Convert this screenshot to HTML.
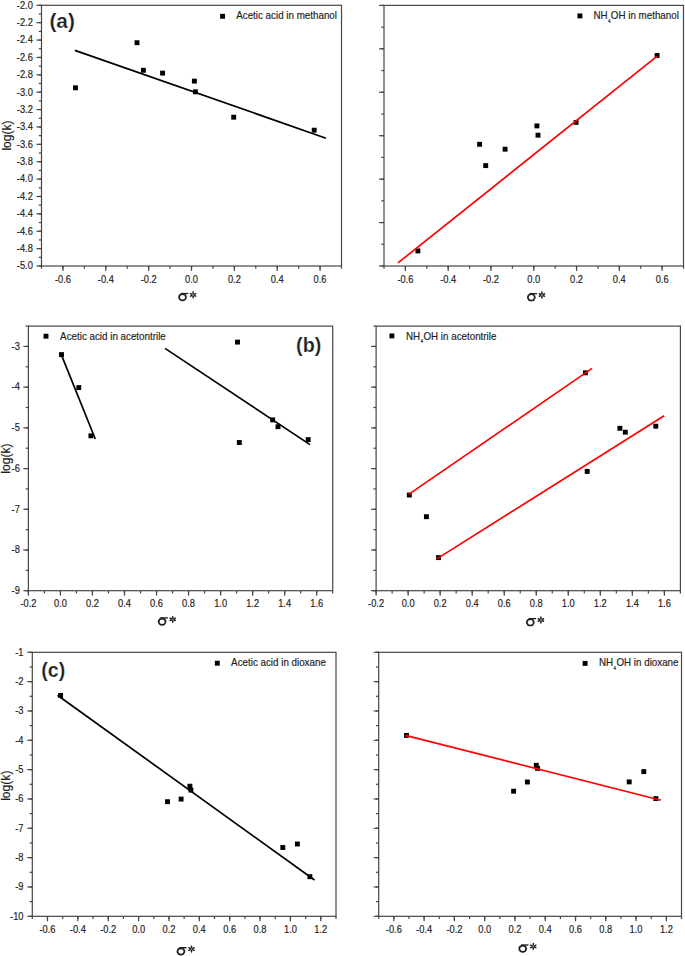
<!DOCTYPE html>
<html><head><meta charset="utf-8"><style>
html,body{margin:0;padding:0;background:#fff;}
body{width:685px;height:956px;overflow:hidden;font-family:"Liberation Sans",sans-serif;}
svg{display:block;}
</style></head><body>
<svg width="685" height="956" viewBox="0 0 685 956">
<rect x="41.50" y="5.30" width="300.00" height="260.70" fill="none" stroke="#454545" stroke-width="1.2"/>
<line x1="41.50" y1="266.00" x2="41.50" y2="268.70" stroke="#454545" stroke-width="1.2"/>
<line x1="62.93" y1="266.00" x2="62.93" y2="268.70" stroke="#454545" stroke-width="1.2"/>
<line x1="84.36" y1="266.00" x2="84.36" y2="268.70" stroke="#454545" stroke-width="1.2"/>
<line x1="105.79" y1="266.00" x2="105.79" y2="268.70" stroke="#454545" stroke-width="1.2"/>
<line x1="127.21" y1="266.00" x2="127.21" y2="268.70" stroke="#454545" stroke-width="1.2"/>
<line x1="148.64" y1="266.00" x2="148.64" y2="268.70" stroke="#454545" stroke-width="1.2"/>
<line x1="170.07" y1="266.00" x2="170.07" y2="268.70" stroke="#454545" stroke-width="1.2"/>
<line x1="191.50" y1="266.00" x2="191.50" y2="268.70" stroke="#454545" stroke-width="1.2"/>
<line x1="212.93" y1="266.00" x2="212.93" y2="268.70" stroke="#454545" stroke-width="1.2"/>
<line x1="234.36" y1="266.00" x2="234.36" y2="268.70" stroke="#454545" stroke-width="1.2"/>
<line x1="255.79" y1="266.00" x2="255.79" y2="268.70" stroke="#454545" stroke-width="1.2"/>
<line x1="277.21" y1="266.00" x2="277.21" y2="268.70" stroke="#454545" stroke-width="1.2"/>
<line x1="298.64" y1="266.00" x2="298.64" y2="268.70" stroke="#454545" stroke-width="1.2"/>
<line x1="320.07" y1="266.00" x2="320.07" y2="268.70" stroke="#454545" stroke-width="1.2"/>
<line x1="341.50" y1="266.00" x2="341.50" y2="268.70" stroke="#454545" stroke-width="1.2"/>
<line x1="62.93" y1="266.00" x2="62.93" y2="271.00" stroke="#454545" stroke-width="1.2"/>
<line x1="105.79" y1="266.00" x2="105.79" y2="271.00" stroke="#454545" stroke-width="1.2"/>
<line x1="148.64" y1="266.00" x2="148.64" y2="271.00" stroke="#454545" stroke-width="1.2"/>
<line x1="191.50" y1="266.00" x2="191.50" y2="271.00" stroke="#454545" stroke-width="1.2"/>
<line x1="234.36" y1="266.00" x2="234.36" y2="271.00" stroke="#454545" stroke-width="1.2"/>
<line x1="277.21" y1="266.00" x2="277.21" y2="271.00" stroke="#454545" stroke-width="1.2"/>
<line x1="320.07" y1="266.00" x2="320.07" y2="271.00" stroke="#454545" stroke-width="1.2"/>
<text transform="translate(62.93,282.50) scale(0.903,1)" font-size="10.3" text-anchor="middle" font-weight="normal" font-family="Liberation Sans" fill="#1e1e1e" stroke="#1e1e1e" stroke-width="0.18">-0.6</text>
<text transform="translate(105.79,282.50) scale(0.903,1)" font-size="10.3" text-anchor="middle" font-weight="normal" font-family="Liberation Sans" fill="#1e1e1e" stroke="#1e1e1e" stroke-width="0.18">-0.4</text>
<text transform="translate(148.64,282.50) scale(0.903,1)" font-size="10.3" text-anchor="middle" font-weight="normal" font-family="Liberation Sans" fill="#1e1e1e" stroke="#1e1e1e" stroke-width="0.18">-0.2</text>
<text transform="translate(191.50,282.50) scale(0.903,1)" font-size="10.3" text-anchor="middle" font-weight="normal" font-family="Liberation Sans" fill="#1e1e1e" stroke="#1e1e1e" stroke-width="0.18">0.0</text>
<text transform="translate(234.36,282.50) scale(0.903,1)" font-size="10.3" text-anchor="middle" font-weight="normal" font-family="Liberation Sans" fill="#1e1e1e" stroke="#1e1e1e" stroke-width="0.18">0.2</text>
<text transform="translate(277.21,282.50) scale(0.903,1)" font-size="10.3" text-anchor="middle" font-weight="normal" font-family="Liberation Sans" fill="#1e1e1e" stroke="#1e1e1e" stroke-width="0.18">0.4</text>
<text transform="translate(320.07,282.50) scale(0.903,1)" font-size="10.3" text-anchor="middle" font-weight="normal" font-family="Liberation Sans" fill="#1e1e1e" stroke="#1e1e1e" stroke-width="0.18">0.6</text>
<line x1="38.80" y1="5.30" x2="41.50" y2="5.30" stroke="#454545" stroke-width="1.2"/>
<line x1="38.80" y1="13.99" x2="41.50" y2="13.99" stroke="#454545" stroke-width="1.2"/>
<line x1="38.80" y1="22.68" x2="41.50" y2="22.68" stroke="#454545" stroke-width="1.2"/>
<line x1="38.80" y1="31.37" x2="41.50" y2="31.37" stroke="#454545" stroke-width="1.2"/>
<line x1="38.80" y1="40.06" x2="41.50" y2="40.06" stroke="#454545" stroke-width="1.2"/>
<line x1="38.80" y1="48.75" x2="41.50" y2="48.75" stroke="#454545" stroke-width="1.2"/>
<line x1="38.80" y1="57.44" x2="41.50" y2="57.44" stroke="#454545" stroke-width="1.2"/>
<line x1="38.80" y1="66.13" x2="41.50" y2="66.13" stroke="#454545" stroke-width="1.2"/>
<line x1="38.80" y1="74.82" x2="41.50" y2="74.82" stroke="#454545" stroke-width="1.2"/>
<line x1="38.80" y1="83.51" x2="41.50" y2="83.51" stroke="#454545" stroke-width="1.2"/>
<line x1="38.80" y1="92.20" x2="41.50" y2="92.20" stroke="#454545" stroke-width="1.2"/>
<line x1="38.80" y1="100.89" x2="41.50" y2="100.89" stroke="#454545" stroke-width="1.2"/>
<line x1="38.80" y1="109.58" x2="41.50" y2="109.58" stroke="#454545" stroke-width="1.2"/>
<line x1="38.80" y1="118.27" x2="41.50" y2="118.27" stroke="#454545" stroke-width="1.2"/>
<line x1="38.80" y1="126.96" x2="41.50" y2="126.96" stroke="#454545" stroke-width="1.2"/>
<line x1="38.80" y1="135.65" x2="41.50" y2="135.65" stroke="#454545" stroke-width="1.2"/>
<line x1="38.80" y1="144.34" x2="41.50" y2="144.34" stroke="#454545" stroke-width="1.2"/>
<line x1="38.80" y1="153.03" x2="41.50" y2="153.03" stroke="#454545" stroke-width="1.2"/>
<line x1="38.80" y1="161.72" x2="41.50" y2="161.72" stroke="#454545" stroke-width="1.2"/>
<line x1="38.80" y1="170.41" x2="41.50" y2="170.41" stroke="#454545" stroke-width="1.2"/>
<line x1="38.80" y1="179.10" x2="41.50" y2="179.10" stroke="#454545" stroke-width="1.2"/>
<line x1="38.80" y1="187.79" x2="41.50" y2="187.79" stroke="#454545" stroke-width="1.2"/>
<line x1="38.80" y1="196.48" x2="41.50" y2="196.48" stroke="#454545" stroke-width="1.2"/>
<line x1="38.80" y1="205.17" x2="41.50" y2="205.17" stroke="#454545" stroke-width="1.2"/>
<line x1="38.80" y1="213.86" x2="41.50" y2="213.86" stroke="#454545" stroke-width="1.2"/>
<line x1="38.80" y1="222.55" x2="41.50" y2="222.55" stroke="#454545" stroke-width="1.2"/>
<line x1="38.80" y1="231.24" x2="41.50" y2="231.24" stroke="#454545" stroke-width="1.2"/>
<line x1="38.80" y1="239.93" x2="41.50" y2="239.93" stroke="#454545" stroke-width="1.2"/>
<line x1="38.80" y1="248.62" x2="41.50" y2="248.62" stroke="#454545" stroke-width="1.2"/>
<line x1="38.80" y1="257.31" x2="41.50" y2="257.31" stroke="#454545" stroke-width="1.2"/>
<line x1="38.80" y1="266.00" x2="41.50" y2="266.00" stroke="#454545" stroke-width="1.2"/>
<line x1="36.50" y1="5.30" x2="41.50" y2="5.30" stroke="#454545" stroke-width="1.2"/>
<line x1="36.50" y1="22.68" x2="41.50" y2="22.68" stroke="#454545" stroke-width="1.2"/>
<line x1="36.50" y1="40.06" x2="41.50" y2="40.06" stroke="#454545" stroke-width="1.2"/>
<line x1="36.50" y1="57.44" x2="41.50" y2="57.44" stroke="#454545" stroke-width="1.2"/>
<line x1="36.50" y1="74.82" x2="41.50" y2="74.82" stroke="#454545" stroke-width="1.2"/>
<line x1="36.50" y1="92.20" x2="41.50" y2="92.20" stroke="#454545" stroke-width="1.2"/>
<line x1="36.50" y1="109.58" x2="41.50" y2="109.58" stroke="#454545" stroke-width="1.2"/>
<line x1="36.50" y1="126.96" x2="41.50" y2="126.96" stroke="#454545" stroke-width="1.2"/>
<line x1="36.50" y1="144.34" x2="41.50" y2="144.34" stroke="#454545" stroke-width="1.2"/>
<line x1="36.50" y1="161.72" x2="41.50" y2="161.72" stroke="#454545" stroke-width="1.2"/>
<line x1="36.50" y1="179.10" x2="41.50" y2="179.10" stroke="#454545" stroke-width="1.2"/>
<line x1="36.50" y1="196.48" x2="41.50" y2="196.48" stroke="#454545" stroke-width="1.2"/>
<line x1="36.50" y1="213.86" x2="41.50" y2="213.86" stroke="#454545" stroke-width="1.2"/>
<line x1="36.50" y1="231.24" x2="41.50" y2="231.24" stroke="#454545" stroke-width="1.2"/>
<line x1="36.50" y1="248.62" x2="41.50" y2="248.62" stroke="#454545" stroke-width="1.2"/>
<line x1="36.50" y1="266.00" x2="41.50" y2="266.00" stroke="#454545" stroke-width="1.2"/>
<text transform="translate(32.80,8.60) scale(0.903,1)" font-size="10.3" text-anchor="end" font-weight="normal" font-family="Liberation Sans" fill="#1e1e1e" stroke="#1e1e1e" stroke-width="0.18">-2.0</text>
<text transform="translate(32.80,25.98) scale(0.903,1)" font-size="10.3" text-anchor="end" font-weight="normal" font-family="Liberation Sans" fill="#1e1e1e" stroke="#1e1e1e" stroke-width="0.18">-2.2</text>
<text transform="translate(32.80,43.36) scale(0.903,1)" font-size="10.3" text-anchor="end" font-weight="normal" font-family="Liberation Sans" fill="#1e1e1e" stroke="#1e1e1e" stroke-width="0.18">-2.4</text>
<text transform="translate(32.80,60.74) scale(0.903,1)" font-size="10.3" text-anchor="end" font-weight="normal" font-family="Liberation Sans" fill="#1e1e1e" stroke="#1e1e1e" stroke-width="0.18">-2.6</text>
<text transform="translate(32.80,78.12) scale(0.903,1)" font-size="10.3" text-anchor="end" font-weight="normal" font-family="Liberation Sans" fill="#1e1e1e" stroke="#1e1e1e" stroke-width="0.18">-2.8</text>
<text transform="translate(32.80,95.50) scale(0.903,1)" font-size="10.3" text-anchor="end" font-weight="normal" font-family="Liberation Sans" fill="#1e1e1e" stroke="#1e1e1e" stroke-width="0.18">-3.0</text>
<text transform="translate(32.80,112.88) scale(0.903,1)" font-size="10.3" text-anchor="end" font-weight="normal" font-family="Liberation Sans" fill="#1e1e1e" stroke="#1e1e1e" stroke-width="0.18">-3.2</text>
<text transform="translate(32.80,130.26) scale(0.903,1)" font-size="10.3" text-anchor="end" font-weight="normal" font-family="Liberation Sans" fill="#1e1e1e" stroke="#1e1e1e" stroke-width="0.18">-3.4</text>
<text transform="translate(32.80,147.64) scale(0.903,1)" font-size="10.3" text-anchor="end" font-weight="normal" font-family="Liberation Sans" fill="#1e1e1e" stroke="#1e1e1e" stroke-width="0.18">-3.6</text>
<text transform="translate(32.80,165.02) scale(0.903,1)" font-size="10.3" text-anchor="end" font-weight="normal" font-family="Liberation Sans" fill="#1e1e1e" stroke="#1e1e1e" stroke-width="0.18">-3.8</text>
<text transform="translate(32.80,182.40) scale(0.903,1)" font-size="10.3" text-anchor="end" font-weight="normal" font-family="Liberation Sans" fill="#1e1e1e" stroke="#1e1e1e" stroke-width="0.18">-4.0</text>
<text transform="translate(32.80,199.78) scale(0.903,1)" font-size="10.3" text-anchor="end" font-weight="normal" font-family="Liberation Sans" fill="#1e1e1e" stroke="#1e1e1e" stroke-width="0.18">-4.2</text>
<text transform="translate(32.80,217.16) scale(0.903,1)" font-size="10.3" text-anchor="end" font-weight="normal" font-family="Liberation Sans" fill="#1e1e1e" stroke="#1e1e1e" stroke-width="0.18">-4.4</text>
<text transform="translate(32.80,234.54) scale(0.903,1)" font-size="10.3" text-anchor="end" font-weight="normal" font-family="Liberation Sans" fill="#1e1e1e" stroke="#1e1e1e" stroke-width="0.18">-4.6</text>
<text transform="translate(32.80,251.92) scale(0.903,1)" font-size="10.3" text-anchor="end" font-weight="normal" font-family="Liberation Sans" fill="#1e1e1e" stroke="#1e1e1e" stroke-width="0.18">-4.8</text>
<text transform="translate(32.80,269.30) scale(0.903,1)" font-size="10.3" text-anchor="end" font-weight="normal" font-family="Liberation Sans" fill="#1e1e1e" stroke="#1e1e1e" stroke-width="0.18">-5.0</text>
<rect x="384.00" y="5.40" width="299.50" height="260.60" fill="none" stroke="#454545" stroke-width="1.2"/>
<line x1="384.00" y1="266.00" x2="384.00" y2="268.70" stroke="#454545" stroke-width="1.2"/>
<line x1="405.39" y1="266.00" x2="405.39" y2="268.70" stroke="#454545" stroke-width="1.2"/>
<line x1="426.79" y1="266.00" x2="426.79" y2="268.70" stroke="#454545" stroke-width="1.2"/>
<line x1="448.18" y1="266.00" x2="448.18" y2="268.70" stroke="#454545" stroke-width="1.2"/>
<line x1="469.57" y1="266.00" x2="469.57" y2="268.70" stroke="#454545" stroke-width="1.2"/>
<line x1="490.96" y1="266.00" x2="490.96" y2="268.70" stroke="#454545" stroke-width="1.2"/>
<line x1="512.36" y1="266.00" x2="512.36" y2="268.70" stroke="#454545" stroke-width="1.2"/>
<line x1="533.75" y1="266.00" x2="533.75" y2="268.70" stroke="#454545" stroke-width="1.2"/>
<line x1="555.14" y1="266.00" x2="555.14" y2="268.70" stroke="#454545" stroke-width="1.2"/>
<line x1="576.54" y1="266.00" x2="576.54" y2="268.70" stroke="#454545" stroke-width="1.2"/>
<line x1="597.93" y1="266.00" x2="597.93" y2="268.70" stroke="#454545" stroke-width="1.2"/>
<line x1="619.32" y1="266.00" x2="619.32" y2="268.70" stroke="#454545" stroke-width="1.2"/>
<line x1="640.71" y1="266.00" x2="640.71" y2="268.70" stroke="#454545" stroke-width="1.2"/>
<line x1="662.11" y1="266.00" x2="662.11" y2="268.70" stroke="#454545" stroke-width="1.2"/>
<line x1="683.50" y1="266.00" x2="683.50" y2="268.70" stroke="#454545" stroke-width="1.2"/>
<line x1="405.39" y1="266.00" x2="405.39" y2="271.00" stroke="#454545" stroke-width="1.2"/>
<line x1="448.18" y1="266.00" x2="448.18" y2="271.00" stroke="#454545" stroke-width="1.2"/>
<line x1="490.96" y1="266.00" x2="490.96" y2="271.00" stroke="#454545" stroke-width="1.2"/>
<line x1="533.75" y1="266.00" x2="533.75" y2="271.00" stroke="#454545" stroke-width="1.2"/>
<line x1="576.54" y1="266.00" x2="576.54" y2="271.00" stroke="#454545" stroke-width="1.2"/>
<line x1="619.32" y1="266.00" x2="619.32" y2="271.00" stroke="#454545" stroke-width="1.2"/>
<line x1="662.11" y1="266.00" x2="662.11" y2="271.00" stroke="#454545" stroke-width="1.2"/>
<text transform="translate(405.39,282.50) scale(0.903,1)" font-size="10.3" text-anchor="middle" font-weight="normal" font-family="Liberation Sans" fill="#1e1e1e" stroke="#1e1e1e" stroke-width="0.18">-0.6</text>
<text transform="translate(448.18,282.50) scale(0.903,1)" font-size="10.3" text-anchor="middle" font-weight="normal" font-family="Liberation Sans" fill="#1e1e1e" stroke="#1e1e1e" stroke-width="0.18">-0.4</text>
<text transform="translate(490.96,282.50) scale(0.903,1)" font-size="10.3" text-anchor="middle" font-weight="normal" font-family="Liberation Sans" fill="#1e1e1e" stroke="#1e1e1e" stroke-width="0.18">-0.2</text>
<text transform="translate(533.75,282.50) scale(0.903,1)" font-size="10.3" text-anchor="middle" font-weight="normal" font-family="Liberation Sans" fill="#1e1e1e" stroke="#1e1e1e" stroke-width="0.18">0.0</text>
<text transform="translate(576.54,282.50) scale(0.903,1)" font-size="10.3" text-anchor="middle" font-weight="normal" font-family="Liberation Sans" fill="#1e1e1e" stroke="#1e1e1e" stroke-width="0.18">0.2</text>
<text transform="translate(619.32,282.50) scale(0.903,1)" font-size="10.3" text-anchor="middle" font-weight="normal" font-family="Liberation Sans" fill="#1e1e1e" stroke="#1e1e1e" stroke-width="0.18">0.4</text>
<text transform="translate(662.11,282.50) scale(0.903,1)" font-size="10.3" text-anchor="middle" font-weight="normal" font-family="Liberation Sans" fill="#1e1e1e" stroke="#1e1e1e" stroke-width="0.18">0.6</text>
<line x1="381.30" y1="5.40" x2="384.00" y2="5.40" stroke="#454545" stroke-width="1.2"/>
<line x1="381.30" y1="27.12" x2="384.00" y2="27.12" stroke="#454545" stroke-width="1.2"/>
<line x1="381.30" y1="48.83" x2="384.00" y2="48.83" stroke="#454545" stroke-width="1.2"/>
<line x1="381.30" y1="70.55" x2="384.00" y2="70.55" stroke="#454545" stroke-width="1.2"/>
<line x1="381.30" y1="92.27" x2="384.00" y2="92.27" stroke="#454545" stroke-width="1.2"/>
<line x1="381.30" y1="113.98" x2="384.00" y2="113.98" stroke="#454545" stroke-width="1.2"/>
<line x1="381.30" y1="135.70" x2="384.00" y2="135.70" stroke="#454545" stroke-width="1.2"/>
<line x1="381.30" y1="157.42" x2="384.00" y2="157.42" stroke="#454545" stroke-width="1.2"/>
<line x1="381.30" y1="179.13" x2="384.00" y2="179.13" stroke="#454545" stroke-width="1.2"/>
<line x1="381.30" y1="200.85" x2="384.00" y2="200.85" stroke="#454545" stroke-width="1.2"/>
<line x1="381.30" y1="222.57" x2="384.00" y2="222.57" stroke="#454545" stroke-width="1.2"/>
<line x1="381.30" y1="244.28" x2="384.00" y2="244.28" stroke="#454545" stroke-width="1.2"/>
<line x1="381.30" y1="266.00" x2="384.00" y2="266.00" stroke="#454545" stroke-width="1.2"/>
<line x1="379.00" y1="5.40" x2="384.00" y2="5.40" stroke="#454545" stroke-width="1.2"/>
<line x1="379.00" y1="48.83" x2="384.00" y2="48.83" stroke="#454545" stroke-width="1.2"/>
<line x1="379.00" y1="92.27" x2="384.00" y2="92.27" stroke="#454545" stroke-width="1.2"/>
<line x1="379.00" y1="135.70" x2="384.00" y2="135.70" stroke="#454545" stroke-width="1.2"/>
<line x1="379.00" y1="179.13" x2="384.00" y2="179.13" stroke="#454545" stroke-width="1.2"/>
<line x1="379.00" y1="222.57" x2="384.00" y2="222.57" stroke="#454545" stroke-width="1.2"/>
<line x1="379.00" y1="266.00" x2="384.00" y2="266.00" stroke="#454545" stroke-width="1.2"/>
<rect x="28.40" y="326.10" width="304.30" height="264.60" fill="none" stroke="#454545" stroke-width="1.2"/>
<line x1="28.40" y1="590.70" x2="28.40" y2="593.40" stroke="#454545" stroke-width="1.2"/>
<line x1="44.42" y1="590.70" x2="44.42" y2="593.40" stroke="#454545" stroke-width="1.2"/>
<line x1="60.43" y1="590.70" x2="60.43" y2="593.40" stroke="#454545" stroke-width="1.2"/>
<line x1="76.45" y1="590.70" x2="76.45" y2="593.40" stroke="#454545" stroke-width="1.2"/>
<line x1="92.46" y1="590.70" x2="92.46" y2="593.40" stroke="#454545" stroke-width="1.2"/>
<line x1="108.48" y1="590.70" x2="108.48" y2="593.40" stroke="#454545" stroke-width="1.2"/>
<line x1="124.49" y1="590.70" x2="124.49" y2="593.40" stroke="#454545" stroke-width="1.2"/>
<line x1="140.51" y1="590.70" x2="140.51" y2="593.40" stroke="#454545" stroke-width="1.2"/>
<line x1="156.53" y1="590.70" x2="156.53" y2="593.40" stroke="#454545" stroke-width="1.2"/>
<line x1="172.54" y1="590.70" x2="172.54" y2="593.40" stroke="#454545" stroke-width="1.2"/>
<line x1="188.56" y1="590.70" x2="188.56" y2="593.40" stroke="#454545" stroke-width="1.2"/>
<line x1="204.57" y1="590.70" x2="204.57" y2="593.40" stroke="#454545" stroke-width="1.2"/>
<line x1="220.59" y1="590.70" x2="220.59" y2="593.40" stroke="#454545" stroke-width="1.2"/>
<line x1="236.61" y1="590.70" x2="236.61" y2="593.40" stroke="#454545" stroke-width="1.2"/>
<line x1="252.62" y1="590.70" x2="252.62" y2="593.40" stroke="#454545" stroke-width="1.2"/>
<line x1="268.64" y1="590.70" x2="268.64" y2="593.40" stroke="#454545" stroke-width="1.2"/>
<line x1="284.65" y1="590.70" x2="284.65" y2="593.40" stroke="#454545" stroke-width="1.2"/>
<line x1="300.67" y1="590.70" x2="300.67" y2="593.40" stroke="#454545" stroke-width="1.2"/>
<line x1="316.68" y1="590.70" x2="316.68" y2="593.40" stroke="#454545" stroke-width="1.2"/>
<line x1="332.70" y1="590.70" x2="332.70" y2="593.40" stroke="#454545" stroke-width="1.2"/>
<line x1="28.40" y1="590.70" x2="28.40" y2="595.70" stroke="#454545" stroke-width="1.2"/>
<line x1="60.43" y1="590.70" x2="60.43" y2="595.70" stroke="#454545" stroke-width="1.2"/>
<line x1="92.46" y1="590.70" x2="92.46" y2="595.70" stroke="#454545" stroke-width="1.2"/>
<line x1="124.49" y1="590.70" x2="124.49" y2="595.70" stroke="#454545" stroke-width="1.2"/>
<line x1="156.53" y1="590.70" x2="156.53" y2="595.70" stroke="#454545" stroke-width="1.2"/>
<line x1="188.56" y1="590.70" x2="188.56" y2="595.70" stroke="#454545" stroke-width="1.2"/>
<line x1="220.59" y1="590.70" x2="220.59" y2="595.70" stroke="#454545" stroke-width="1.2"/>
<line x1="252.62" y1="590.70" x2="252.62" y2="595.70" stroke="#454545" stroke-width="1.2"/>
<line x1="284.65" y1="590.70" x2="284.65" y2="595.70" stroke="#454545" stroke-width="1.2"/>
<line x1="316.68" y1="590.70" x2="316.68" y2="595.70" stroke="#454545" stroke-width="1.2"/>
<text transform="translate(28.40,607.20) scale(0.903,1)" font-size="10.3" text-anchor="middle" font-weight="normal" font-family="Liberation Sans" fill="#1e1e1e" stroke="#1e1e1e" stroke-width="0.18">-0.2</text>
<text transform="translate(60.43,607.20) scale(0.903,1)" font-size="10.3" text-anchor="middle" font-weight="normal" font-family="Liberation Sans" fill="#1e1e1e" stroke="#1e1e1e" stroke-width="0.18">0.0</text>
<text transform="translate(92.46,607.20) scale(0.903,1)" font-size="10.3" text-anchor="middle" font-weight="normal" font-family="Liberation Sans" fill="#1e1e1e" stroke="#1e1e1e" stroke-width="0.18">0.2</text>
<text transform="translate(124.49,607.20) scale(0.903,1)" font-size="10.3" text-anchor="middle" font-weight="normal" font-family="Liberation Sans" fill="#1e1e1e" stroke="#1e1e1e" stroke-width="0.18">0.4</text>
<text transform="translate(156.53,607.20) scale(0.903,1)" font-size="10.3" text-anchor="middle" font-weight="normal" font-family="Liberation Sans" fill="#1e1e1e" stroke="#1e1e1e" stroke-width="0.18">0.6</text>
<text transform="translate(188.56,607.20) scale(0.903,1)" font-size="10.3" text-anchor="middle" font-weight="normal" font-family="Liberation Sans" fill="#1e1e1e" stroke="#1e1e1e" stroke-width="0.18">0.8</text>
<text transform="translate(220.59,607.20) scale(0.903,1)" font-size="10.3" text-anchor="middle" font-weight="normal" font-family="Liberation Sans" fill="#1e1e1e" stroke="#1e1e1e" stroke-width="0.18">1.0</text>
<text transform="translate(252.62,607.20) scale(0.903,1)" font-size="10.3" text-anchor="middle" font-weight="normal" font-family="Liberation Sans" fill="#1e1e1e" stroke="#1e1e1e" stroke-width="0.18">1.2</text>
<text transform="translate(284.65,607.20) scale(0.903,1)" font-size="10.3" text-anchor="middle" font-weight="normal" font-family="Liberation Sans" fill="#1e1e1e" stroke="#1e1e1e" stroke-width="0.18">1.4</text>
<text transform="translate(316.68,607.20) scale(0.903,1)" font-size="10.3" text-anchor="middle" font-weight="normal" font-family="Liberation Sans" fill="#1e1e1e" stroke="#1e1e1e" stroke-width="0.18">1.6</text>
<line x1="25.70" y1="326.10" x2="28.40" y2="326.10" stroke="#454545" stroke-width="1.2"/>
<line x1="25.70" y1="346.45" x2="28.40" y2="346.45" stroke="#454545" stroke-width="1.2"/>
<line x1="25.70" y1="366.81" x2="28.40" y2="366.81" stroke="#454545" stroke-width="1.2"/>
<line x1="25.70" y1="387.16" x2="28.40" y2="387.16" stroke="#454545" stroke-width="1.2"/>
<line x1="25.70" y1="407.52" x2="28.40" y2="407.52" stroke="#454545" stroke-width="1.2"/>
<line x1="25.70" y1="427.87" x2="28.40" y2="427.87" stroke="#454545" stroke-width="1.2"/>
<line x1="25.70" y1="448.22" x2="28.40" y2="448.22" stroke="#454545" stroke-width="1.2"/>
<line x1="25.70" y1="468.58" x2="28.40" y2="468.58" stroke="#454545" stroke-width="1.2"/>
<line x1="25.70" y1="488.93" x2="28.40" y2="488.93" stroke="#454545" stroke-width="1.2"/>
<line x1="25.70" y1="509.28" x2="28.40" y2="509.28" stroke="#454545" stroke-width="1.2"/>
<line x1="25.70" y1="529.64" x2="28.40" y2="529.64" stroke="#454545" stroke-width="1.2"/>
<line x1="25.70" y1="549.99" x2="28.40" y2="549.99" stroke="#454545" stroke-width="1.2"/>
<line x1="25.70" y1="570.35" x2="28.40" y2="570.35" stroke="#454545" stroke-width="1.2"/>
<line x1="25.70" y1="590.70" x2="28.40" y2="590.70" stroke="#454545" stroke-width="1.2"/>
<line x1="23.40" y1="346.45" x2="28.40" y2="346.45" stroke="#454545" stroke-width="1.2"/>
<line x1="23.40" y1="387.16" x2="28.40" y2="387.16" stroke="#454545" stroke-width="1.2"/>
<line x1="23.40" y1="427.87" x2="28.40" y2="427.87" stroke="#454545" stroke-width="1.2"/>
<line x1="23.40" y1="468.58" x2="28.40" y2="468.58" stroke="#454545" stroke-width="1.2"/>
<line x1="23.40" y1="509.28" x2="28.40" y2="509.28" stroke="#454545" stroke-width="1.2"/>
<line x1="23.40" y1="549.99" x2="28.40" y2="549.99" stroke="#454545" stroke-width="1.2"/>
<line x1="23.40" y1="590.70" x2="28.40" y2="590.70" stroke="#454545" stroke-width="1.2"/>
<text transform="translate(19.80,349.75) scale(0.903,1)" font-size="10.3" text-anchor="end" font-weight="normal" font-family="Liberation Sans" fill="#1e1e1e" stroke="#1e1e1e" stroke-width="0.18">-3</text>
<text transform="translate(19.80,390.46) scale(0.903,1)" font-size="10.3" text-anchor="end" font-weight="normal" font-family="Liberation Sans" fill="#1e1e1e" stroke="#1e1e1e" stroke-width="0.18">-4</text>
<text transform="translate(19.80,431.17) scale(0.903,1)" font-size="10.3" text-anchor="end" font-weight="normal" font-family="Liberation Sans" fill="#1e1e1e" stroke="#1e1e1e" stroke-width="0.18">-5</text>
<text transform="translate(19.80,471.88) scale(0.903,1)" font-size="10.3" text-anchor="end" font-weight="normal" font-family="Liberation Sans" fill="#1e1e1e" stroke="#1e1e1e" stroke-width="0.18">-6</text>
<text transform="translate(19.80,512.58) scale(0.903,1)" font-size="10.3" text-anchor="end" font-weight="normal" font-family="Liberation Sans" fill="#1e1e1e" stroke="#1e1e1e" stroke-width="0.18">-7</text>
<text transform="translate(19.80,553.29) scale(0.903,1)" font-size="10.3" text-anchor="end" font-weight="normal" font-family="Liberation Sans" fill="#1e1e1e" stroke="#1e1e1e" stroke-width="0.18">-8</text>
<text transform="translate(19.80,594.00) scale(0.903,1)" font-size="10.3" text-anchor="end" font-weight="normal" font-family="Liberation Sans" fill="#1e1e1e" stroke="#1e1e1e" stroke-width="0.18">-9</text>
<rect x="376.10" y="326.10" width="304.30" height="264.60" fill="none" stroke="#454545" stroke-width="1.2"/>
<line x1="376.10" y1="590.70" x2="376.10" y2="593.40" stroke="#454545" stroke-width="1.2"/>
<line x1="392.12" y1="590.70" x2="392.12" y2="593.40" stroke="#454545" stroke-width="1.2"/>
<line x1="408.13" y1="590.70" x2="408.13" y2="593.40" stroke="#454545" stroke-width="1.2"/>
<line x1="424.15" y1="590.70" x2="424.15" y2="593.40" stroke="#454545" stroke-width="1.2"/>
<line x1="440.16" y1="590.70" x2="440.16" y2="593.40" stroke="#454545" stroke-width="1.2"/>
<line x1="456.18" y1="590.70" x2="456.18" y2="593.40" stroke="#454545" stroke-width="1.2"/>
<line x1="472.19" y1="590.70" x2="472.19" y2="593.40" stroke="#454545" stroke-width="1.2"/>
<line x1="488.21" y1="590.70" x2="488.21" y2="593.40" stroke="#454545" stroke-width="1.2"/>
<line x1="504.23" y1="590.70" x2="504.23" y2="593.40" stroke="#454545" stroke-width="1.2"/>
<line x1="520.24" y1="590.70" x2="520.24" y2="593.40" stroke="#454545" stroke-width="1.2"/>
<line x1="536.26" y1="590.70" x2="536.26" y2="593.40" stroke="#454545" stroke-width="1.2"/>
<line x1="552.27" y1="590.70" x2="552.27" y2="593.40" stroke="#454545" stroke-width="1.2"/>
<line x1="568.29" y1="590.70" x2="568.29" y2="593.40" stroke="#454545" stroke-width="1.2"/>
<line x1="584.31" y1="590.70" x2="584.31" y2="593.40" stroke="#454545" stroke-width="1.2"/>
<line x1="600.32" y1="590.70" x2="600.32" y2="593.40" stroke="#454545" stroke-width="1.2"/>
<line x1="616.34" y1="590.70" x2="616.34" y2="593.40" stroke="#454545" stroke-width="1.2"/>
<line x1="632.35" y1="590.70" x2="632.35" y2="593.40" stroke="#454545" stroke-width="1.2"/>
<line x1="648.37" y1="590.70" x2="648.37" y2="593.40" stroke="#454545" stroke-width="1.2"/>
<line x1="664.38" y1="590.70" x2="664.38" y2="593.40" stroke="#454545" stroke-width="1.2"/>
<line x1="680.40" y1="590.70" x2="680.40" y2="593.40" stroke="#454545" stroke-width="1.2"/>
<line x1="376.10" y1="590.70" x2="376.10" y2="595.70" stroke="#454545" stroke-width="1.2"/>
<line x1="408.13" y1="590.70" x2="408.13" y2="595.70" stroke="#454545" stroke-width="1.2"/>
<line x1="440.16" y1="590.70" x2="440.16" y2="595.70" stroke="#454545" stroke-width="1.2"/>
<line x1="472.19" y1="590.70" x2="472.19" y2="595.70" stroke="#454545" stroke-width="1.2"/>
<line x1="504.23" y1="590.70" x2="504.23" y2="595.70" stroke="#454545" stroke-width="1.2"/>
<line x1="536.26" y1="590.70" x2="536.26" y2="595.70" stroke="#454545" stroke-width="1.2"/>
<line x1="568.29" y1="590.70" x2="568.29" y2="595.70" stroke="#454545" stroke-width="1.2"/>
<line x1="600.32" y1="590.70" x2="600.32" y2="595.70" stroke="#454545" stroke-width="1.2"/>
<line x1="632.35" y1="590.70" x2="632.35" y2="595.70" stroke="#454545" stroke-width="1.2"/>
<line x1="664.38" y1="590.70" x2="664.38" y2="595.70" stroke="#454545" stroke-width="1.2"/>
<text transform="translate(376.10,607.20) scale(0.903,1)" font-size="10.3" text-anchor="middle" font-weight="normal" font-family="Liberation Sans" fill="#1e1e1e" stroke="#1e1e1e" stroke-width="0.18">-0.2</text>
<text transform="translate(408.13,607.20) scale(0.903,1)" font-size="10.3" text-anchor="middle" font-weight="normal" font-family="Liberation Sans" fill="#1e1e1e" stroke="#1e1e1e" stroke-width="0.18">0.0</text>
<text transform="translate(440.16,607.20) scale(0.903,1)" font-size="10.3" text-anchor="middle" font-weight="normal" font-family="Liberation Sans" fill="#1e1e1e" stroke="#1e1e1e" stroke-width="0.18">0.2</text>
<text transform="translate(472.19,607.20) scale(0.903,1)" font-size="10.3" text-anchor="middle" font-weight="normal" font-family="Liberation Sans" fill="#1e1e1e" stroke="#1e1e1e" stroke-width="0.18">0.4</text>
<text transform="translate(504.23,607.20) scale(0.903,1)" font-size="10.3" text-anchor="middle" font-weight="normal" font-family="Liberation Sans" fill="#1e1e1e" stroke="#1e1e1e" stroke-width="0.18">0.6</text>
<text transform="translate(536.26,607.20) scale(0.903,1)" font-size="10.3" text-anchor="middle" font-weight="normal" font-family="Liberation Sans" fill="#1e1e1e" stroke="#1e1e1e" stroke-width="0.18">0.8</text>
<text transform="translate(568.29,607.20) scale(0.903,1)" font-size="10.3" text-anchor="middle" font-weight="normal" font-family="Liberation Sans" fill="#1e1e1e" stroke="#1e1e1e" stroke-width="0.18">1.0</text>
<text transform="translate(600.32,607.20) scale(0.903,1)" font-size="10.3" text-anchor="middle" font-weight="normal" font-family="Liberation Sans" fill="#1e1e1e" stroke="#1e1e1e" stroke-width="0.18">1.2</text>
<text transform="translate(632.35,607.20) scale(0.903,1)" font-size="10.3" text-anchor="middle" font-weight="normal" font-family="Liberation Sans" fill="#1e1e1e" stroke="#1e1e1e" stroke-width="0.18">1.4</text>
<text transform="translate(664.38,607.20) scale(0.903,1)" font-size="10.3" text-anchor="middle" font-weight="normal" font-family="Liberation Sans" fill="#1e1e1e" stroke="#1e1e1e" stroke-width="0.18">1.6</text>
<line x1="373.40" y1="326.10" x2="376.10" y2="326.10" stroke="#454545" stroke-width="1.2"/>
<line x1="373.40" y1="346.45" x2="376.10" y2="346.45" stroke="#454545" stroke-width="1.2"/>
<line x1="373.40" y1="366.81" x2="376.10" y2="366.81" stroke="#454545" stroke-width="1.2"/>
<line x1="373.40" y1="387.16" x2="376.10" y2="387.16" stroke="#454545" stroke-width="1.2"/>
<line x1="373.40" y1="407.52" x2="376.10" y2="407.52" stroke="#454545" stroke-width="1.2"/>
<line x1="373.40" y1="427.87" x2="376.10" y2="427.87" stroke="#454545" stroke-width="1.2"/>
<line x1="373.40" y1="448.22" x2="376.10" y2="448.22" stroke="#454545" stroke-width="1.2"/>
<line x1="373.40" y1="468.58" x2="376.10" y2="468.58" stroke="#454545" stroke-width="1.2"/>
<line x1="373.40" y1="488.93" x2="376.10" y2="488.93" stroke="#454545" stroke-width="1.2"/>
<line x1="373.40" y1="509.28" x2="376.10" y2="509.28" stroke="#454545" stroke-width="1.2"/>
<line x1="373.40" y1="529.64" x2="376.10" y2="529.64" stroke="#454545" stroke-width="1.2"/>
<line x1="373.40" y1="549.99" x2="376.10" y2="549.99" stroke="#454545" stroke-width="1.2"/>
<line x1="373.40" y1="570.35" x2="376.10" y2="570.35" stroke="#454545" stroke-width="1.2"/>
<line x1="373.40" y1="590.70" x2="376.10" y2="590.70" stroke="#454545" stroke-width="1.2"/>
<line x1="371.10" y1="346.45" x2="376.10" y2="346.45" stroke="#454545" stroke-width="1.2"/>
<line x1="371.10" y1="387.16" x2="376.10" y2="387.16" stroke="#454545" stroke-width="1.2"/>
<line x1="371.10" y1="427.87" x2="376.10" y2="427.87" stroke="#454545" stroke-width="1.2"/>
<line x1="371.10" y1="468.58" x2="376.10" y2="468.58" stroke="#454545" stroke-width="1.2"/>
<line x1="371.10" y1="509.28" x2="376.10" y2="509.28" stroke="#454545" stroke-width="1.2"/>
<line x1="371.10" y1="549.99" x2="376.10" y2="549.99" stroke="#454545" stroke-width="1.2"/>
<line x1="371.10" y1="590.70" x2="376.10" y2="590.70" stroke="#454545" stroke-width="1.2"/>
<rect x="32.30" y="652.30" width="303.70" height="264.00" fill="none" stroke="#454545" stroke-width="1.2"/>
<line x1="32.30" y1="916.30" x2="32.30" y2="919.00" stroke="#454545" stroke-width="1.2"/>
<line x1="47.48" y1="916.30" x2="47.48" y2="919.00" stroke="#454545" stroke-width="1.2"/>
<line x1="62.67" y1="916.30" x2="62.67" y2="919.00" stroke="#454545" stroke-width="1.2"/>
<line x1="77.85" y1="916.30" x2="77.85" y2="919.00" stroke="#454545" stroke-width="1.2"/>
<line x1="93.04" y1="916.30" x2="93.04" y2="919.00" stroke="#454545" stroke-width="1.2"/>
<line x1="108.22" y1="916.30" x2="108.22" y2="919.00" stroke="#454545" stroke-width="1.2"/>
<line x1="123.41" y1="916.30" x2="123.41" y2="919.00" stroke="#454545" stroke-width="1.2"/>
<line x1="138.59" y1="916.30" x2="138.59" y2="919.00" stroke="#454545" stroke-width="1.2"/>
<line x1="153.78" y1="916.30" x2="153.78" y2="919.00" stroke="#454545" stroke-width="1.2"/>
<line x1="168.96" y1="916.30" x2="168.96" y2="919.00" stroke="#454545" stroke-width="1.2"/>
<line x1="184.15" y1="916.30" x2="184.15" y2="919.00" stroke="#454545" stroke-width="1.2"/>
<line x1="199.33" y1="916.30" x2="199.33" y2="919.00" stroke="#454545" stroke-width="1.2"/>
<line x1="214.52" y1="916.30" x2="214.52" y2="919.00" stroke="#454545" stroke-width="1.2"/>
<line x1="229.70" y1="916.30" x2="229.70" y2="919.00" stroke="#454545" stroke-width="1.2"/>
<line x1="244.89" y1="916.30" x2="244.89" y2="919.00" stroke="#454545" stroke-width="1.2"/>
<line x1="260.07" y1="916.30" x2="260.07" y2="919.00" stroke="#454545" stroke-width="1.2"/>
<line x1="275.26" y1="916.30" x2="275.26" y2="919.00" stroke="#454545" stroke-width="1.2"/>
<line x1="290.44" y1="916.30" x2="290.44" y2="919.00" stroke="#454545" stroke-width="1.2"/>
<line x1="305.63" y1="916.30" x2="305.63" y2="919.00" stroke="#454545" stroke-width="1.2"/>
<line x1="320.81" y1="916.30" x2="320.81" y2="919.00" stroke="#454545" stroke-width="1.2"/>
<line x1="336.00" y1="916.30" x2="336.00" y2="919.00" stroke="#454545" stroke-width="1.2"/>
<line x1="47.48" y1="916.30" x2="47.48" y2="921.30" stroke="#454545" stroke-width="1.2"/>
<line x1="77.85" y1="916.30" x2="77.85" y2="921.30" stroke="#454545" stroke-width="1.2"/>
<line x1="108.22" y1="916.30" x2="108.22" y2="921.30" stroke="#454545" stroke-width="1.2"/>
<line x1="138.59" y1="916.30" x2="138.59" y2="921.30" stroke="#454545" stroke-width="1.2"/>
<line x1="168.96" y1="916.30" x2="168.96" y2="921.30" stroke="#454545" stroke-width="1.2"/>
<line x1="199.33" y1="916.30" x2="199.33" y2="921.30" stroke="#454545" stroke-width="1.2"/>
<line x1="229.70" y1="916.30" x2="229.70" y2="921.30" stroke="#454545" stroke-width="1.2"/>
<line x1="260.07" y1="916.30" x2="260.07" y2="921.30" stroke="#454545" stroke-width="1.2"/>
<line x1="290.44" y1="916.30" x2="290.44" y2="921.30" stroke="#454545" stroke-width="1.2"/>
<line x1="320.81" y1="916.30" x2="320.81" y2="921.30" stroke="#454545" stroke-width="1.2"/>
<text transform="translate(47.48,932.80) scale(0.903,1)" font-size="10.3" text-anchor="middle" font-weight="normal" font-family="Liberation Sans" fill="#1e1e1e" stroke="#1e1e1e" stroke-width="0.18">-0.6</text>
<text transform="translate(77.85,932.80) scale(0.903,1)" font-size="10.3" text-anchor="middle" font-weight="normal" font-family="Liberation Sans" fill="#1e1e1e" stroke="#1e1e1e" stroke-width="0.18">-0.4</text>
<text transform="translate(108.22,932.80) scale(0.903,1)" font-size="10.3" text-anchor="middle" font-weight="normal" font-family="Liberation Sans" fill="#1e1e1e" stroke="#1e1e1e" stroke-width="0.18">-0.2</text>
<text transform="translate(138.59,932.80) scale(0.903,1)" font-size="10.3" text-anchor="middle" font-weight="normal" font-family="Liberation Sans" fill="#1e1e1e" stroke="#1e1e1e" stroke-width="0.18">0.0</text>
<text transform="translate(168.96,932.80) scale(0.903,1)" font-size="10.3" text-anchor="middle" font-weight="normal" font-family="Liberation Sans" fill="#1e1e1e" stroke="#1e1e1e" stroke-width="0.18">0.2</text>
<text transform="translate(199.33,932.80) scale(0.903,1)" font-size="10.3" text-anchor="middle" font-weight="normal" font-family="Liberation Sans" fill="#1e1e1e" stroke="#1e1e1e" stroke-width="0.18">0.4</text>
<text transform="translate(229.70,932.80) scale(0.903,1)" font-size="10.3" text-anchor="middle" font-weight="normal" font-family="Liberation Sans" fill="#1e1e1e" stroke="#1e1e1e" stroke-width="0.18">0.6</text>
<text transform="translate(260.07,932.80) scale(0.903,1)" font-size="10.3" text-anchor="middle" font-weight="normal" font-family="Liberation Sans" fill="#1e1e1e" stroke="#1e1e1e" stroke-width="0.18">0.8</text>
<text transform="translate(290.44,932.80) scale(0.903,1)" font-size="10.3" text-anchor="middle" font-weight="normal" font-family="Liberation Sans" fill="#1e1e1e" stroke="#1e1e1e" stroke-width="0.18">1.0</text>
<text transform="translate(320.81,932.80) scale(0.903,1)" font-size="10.3" text-anchor="middle" font-weight="normal" font-family="Liberation Sans" fill="#1e1e1e" stroke="#1e1e1e" stroke-width="0.18">1.2</text>
<line x1="29.60" y1="652.30" x2="32.30" y2="652.30" stroke="#454545" stroke-width="1.2"/>
<line x1="29.60" y1="666.97" x2="32.30" y2="666.97" stroke="#454545" stroke-width="1.2"/>
<line x1="29.60" y1="681.63" x2="32.30" y2="681.63" stroke="#454545" stroke-width="1.2"/>
<line x1="29.60" y1="696.30" x2="32.30" y2="696.30" stroke="#454545" stroke-width="1.2"/>
<line x1="29.60" y1="710.97" x2="32.30" y2="710.97" stroke="#454545" stroke-width="1.2"/>
<line x1="29.60" y1="725.63" x2="32.30" y2="725.63" stroke="#454545" stroke-width="1.2"/>
<line x1="29.60" y1="740.30" x2="32.30" y2="740.30" stroke="#454545" stroke-width="1.2"/>
<line x1="29.60" y1="754.97" x2="32.30" y2="754.97" stroke="#454545" stroke-width="1.2"/>
<line x1="29.60" y1="769.63" x2="32.30" y2="769.63" stroke="#454545" stroke-width="1.2"/>
<line x1="29.60" y1="784.30" x2="32.30" y2="784.30" stroke="#454545" stroke-width="1.2"/>
<line x1="29.60" y1="798.97" x2="32.30" y2="798.97" stroke="#454545" stroke-width="1.2"/>
<line x1="29.60" y1="813.63" x2="32.30" y2="813.63" stroke="#454545" stroke-width="1.2"/>
<line x1="29.60" y1="828.30" x2="32.30" y2="828.30" stroke="#454545" stroke-width="1.2"/>
<line x1="29.60" y1="842.97" x2="32.30" y2="842.97" stroke="#454545" stroke-width="1.2"/>
<line x1="29.60" y1="857.63" x2="32.30" y2="857.63" stroke="#454545" stroke-width="1.2"/>
<line x1="29.60" y1="872.30" x2="32.30" y2="872.30" stroke="#454545" stroke-width="1.2"/>
<line x1="29.60" y1="886.97" x2="32.30" y2="886.97" stroke="#454545" stroke-width="1.2"/>
<line x1="29.60" y1="901.63" x2="32.30" y2="901.63" stroke="#454545" stroke-width="1.2"/>
<line x1="29.60" y1="916.30" x2="32.30" y2="916.30" stroke="#454545" stroke-width="1.2"/>
<line x1="27.30" y1="652.30" x2="32.30" y2="652.30" stroke="#454545" stroke-width="1.2"/>
<line x1="27.30" y1="681.63" x2="32.30" y2="681.63" stroke="#454545" stroke-width="1.2"/>
<line x1="27.30" y1="710.97" x2="32.30" y2="710.97" stroke="#454545" stroke-width="1.2"/>
<line x1="27.30" y1="740.30" x2="32.30" y2="740.30" stroke="#454545" stroke-width="1.2"/>
<line x1="27.30" y1="769.63" x2="32.30" y2="769.63" stroke="#454545" stroke-width="1.2"/>
<line x1="27.30" y1="798.97" x2="32.30" y2="798.97" stroke="#454545" stroke-width="1.2"/>
<line x1="27.30" y1="828.30" x2="32.30" y2="828.30" stroke="#454545" stroke-width="1.2"/>
<line x1="27.30" y1="857.63" x2="32.30" y2="857.63" stroke="#454545" stroke-width="1.2"/>
<line x1="27.30" y1="886.97" x2="32.30" y2="886.97" stroke="#454545" stroke-width="1.2"/>
<line x1="27.30" y1="916.30" x2="32.30" y2="916.30" stroke="#454545" stroke-width="1.2"/>
<text transform="translate(23.50,655.60) scale(0.903,1)" font-size="10.3" text-anchor="end" font-weight="normal" font-family="Liberation Sans" fill="#1e1e1e" stroke="#1e1e1e" stroke-width="0.18">-1</text>
<text transform="translate(23.50,684.93) scale(0.903,1)" font-size="10.3" text-anchor="end" font-weight="normal" font-family="Liberation Sans" fill="#1e1e1e" stroke="#1e1e1e" stroke-width="0.18">-2</text>
<text transform="translate(23.50,714.27) scale(0.903,1)" font-size="10.3" text-anchor="end" font-weight="normal" font-family="Liberation Sans" fill="#1e1e1e" stroke="#1e1e1e" stroke-width="0.18">-3</text>
<text transform="translate(23.50,743.60) scale(0.903,1)" font-size="10.3" text-anchor="end" font-weight="normal" font-family="Liberation Sans" fill="#1e1e1e" stroke="#1e1e1e" stroke-width="0.18">-4</text>
<text transform="translate(23.50,772.93) scale(0.903,1)" font-size="10.3" text-anchor="end" font-weight="normal" font-family="Liberation Sans" fill="#1e1e1e" stroke="#1e1e1e" stroke-width="0.18">-5</text>
<text transform="translate(23.50,802.27) scale(0.903,1)" font-size="10.3" text-anchor="end" font-weight="normal" font-family="Liberation Sans" fill="#1e1e1e" stroke="#1e1e1e" stroke-width="0.18">-6</text>
<text transform="translate(23.50,831.60) scale(0.903,1)" font-size="10.3" text-anchor="end" font-weight="normal" font-family="Liberation Sans" fill="#1e1e1e" stroke="#1e1e1e" stroke-width="0.18">-7</text>
<text transform="translate(23.50,860.93) scale(0.903,1)" font-size="10.3" text-anchor="end" font-weight="normal" font-family="Liberation Sans" fill="#1e1e1e" stroke="#1e1e1e" stroke-width="0.18">-8</text>
<text transform="translate(23.50,890.27) scale(0.903,1)" font-size="10.3" text-anchor="end" font-weight="normal" font-family="Liberation Sans" fill="#1e1e1e" stroke="#1e1e1e" stroke-width="0.18">-9</text>
<text transform="translate(23.50,919.60) scale(0.903,1)" font-size="10.3" text-anchor="end" font-weight="normal" font-family="Liberation Sans" fill="#1e1e1e" stroke="#1e1e1e" stroke-width="0.18">-10</text>
<rect x="378.70" y="652.30" width="302.80" height="264.00" fill="none" stroke="#454545" stroke-width="1.2"/>
<line x1="378.70" y1="916.30" x2="378.70" y2="919.00" stroke="#454545" stroke-width="1.2"/>
<line x1="393.84" y1="916.30" x2="393.84" y2="919.00" stroke="#454545" stroke-width="1.2"/>
<line x1="408.98" y1="916.30" x2="408.98" y2="919.00" stroke="#454545" stroke-width="1.2"/>
<line x1="424.12" y1="916.30" x2="424.12" y2="919.00" stroke="#454545" stroke-width="1.2"/>
<line x1="439.26" y1="916.30" x2="439.26" y2="919.00" stroke="#454545" stroke-width="1.2"/>
<line x1="454.40" y1="916.30" x2="454.40" y2="919.00" stroke="#454545" stroke-width="1.2"/>
<line x1="469.54" y1="916.30" x2="469.54" y2="919.00" stroke="#454545" stroke-width="1.2"/>
<line x1="484.68" y1="916.30" x2="484.68" y2="919.00" stroke="#454545" stroke-width="1.2"/>
<line x1="499.82" y1="916.30" x2="499.82" y2="919.00" stroke="#454545" stroke-width="1.2"/>
<line x1="514.96" y1="916.30" x2="514.96" y2="919.00" stroke="#454545" stroke-width="1.2"/>
<line x1="530.10" y1="916.30" x2="530.10" y2="919.00" stroke="#454545" stroke-width="1.2"/>
<line x1="545.24" y1="916.30" x2="545.24" y2="919.00" stroke="#454545" stroke-width="1.2"/>
<line x1="560.38" y1="916.30" x2="560.38" y2="919.00" stroke="#454545" stroke-width="1.2"/>
<line x1="575.52" y1="916.30" x2="575.52" y2="919.00" stroke="#454545" stroke-width="1.2"/>
<line x1="590.66" y1="916.30" x2="590.66" y2="919.00" stroke="#454545" stroke-width="1.2"/>
<line x1="605.80" y1="916.30" x2="605.80" y2="919.00" stroke="#454545" stroke-width="1.2"/>
<line x1="620.94" y1="916.30" x2="620.94" y2="919.00" stroke="#454545" stroke-width="1.2"/>
<line x1="636.08" y1="916.30" x2="636.08" y2="919.00" stroke="#454545" stroke-width="1.2"/>
<line x1="651.22" y1="916.30" x2="651.22" y2="919.00" stroke="#454545" stroke-width="1.2"/>
<line x1="666.36" y1="916.30" x2="666.36" y2="919.00" stroke="#454545" stroke-width="1.2"/>
<line x1="681.50" y1="916.30" x2="681.50" y2="919.00" stroke="#454545" stroke-width="1.2"/>
<line x1="393.84" y1="916.30" x2="393.84" y2="921.30" stroke="#454545" stroke-width="1.2"/>
<line x1="424.12" y1="916.30" x2="424.12" y2="921.30" stroke="#454545" stroke-width="1.2"/>
<line x1="454.40" y1="916.30" x2="454.40" y2="921.30" stroke="#454545" stroke-width="1.2"/>
<line x1="484.68" y1="916.30" x2="484.68" y2="921.30" stroke="#454545" stroke-width="1.2"/>
<line x1="514.96" y1="916.30" x2="514.96" y2="921.30" stroke="#454545" stroke-width="1.2"/>
<line x1="545.24" y1="916.30" x2="545.24" y2="921.30" stroke="#454545" stroke-width="1.2"/>
<line x1="575.52" y1="916.30" x2="575.52" y2="921.30" stroke="#454545" stroke-width="1.2"/>
<line x1="605.80" y1="916.30" x2="605.80" y2="921.30" stroke="#454545" stroke-width="1.2"/>
<line x1="636.08" y1="916.30" x2="636.08" y2="921.30" stroke="#454545" stroke-width="1.2"/>
<line x1="666.36" y1="916.30" x2="666.36" y2="921.30" stroke="#454545" stroke-width="1.2"/>
<text transform="translate(393.84,932.80) scale(0.903,1)" font-size="10.3" text-anchor="middle" font-weight="normal" font-family="Liberation Sans" fill="#1e1e1e" stroke="#1e1e1e" stroke-width="0.18">-0.6</text>
<text transform="translate(424.12,932.80) scale(0.903,1)" font-size="10.3" text-anchor="middle" font-weight="normal" font-family="Liberation Sans" fill="#1e1e1e" stroke="#1e1e1e" stroke-width="0.18">-0.4</text>
<text transform="translate(454.40,932.80) scale(0.903,1)" font-size="10.3" text-anchor="middle" font-weight="normal" font-family="Liberation Sans" fill="#1e1e1e" stroke="#1e1e1e" stroke-width="0.18">-0.2</text>
<text transform="translate(484.68,932.80) scale(0.903,1)" font-size="10.3" text-anchor="middle" font-weight="normal" font-family="Liberation Sans" fill="#1e1e1e" stroke="#1e1e1e" stroke-width="0.18">0.0</text>
<text transform="translate(514.96,932.80) scale(0.903,1)" font-size="10.3" text-anchor="middle" font-weight="normal" font-family="Liberation Sans" fill="#1e1e1e" stroke="#1e1e1e" stroke-width="0.18">0.2</text>
<text transform="translate(545.24,932.80) scale(0.903,1)" font-size="10.3" text-anchor="middle" font-weight="normal" font-family="Liberation Sans" fill="#1e1e1e" stroke="#1e1e1e" stroke-width="0.18">0.4</text>
<text transform="translate(575.52,932.80) scale(0.903,1)" font-size="10.3" text-anchor="middle" font-weight="normal" font-family="Liberation Sans" fill="#1e1e1e" stroke="#1e1e1e" stroke-width="0.18">0.6</text>
<text transform="translate(605.80,932.80) scale(0.903,1)" font-size="10.3" text-anchor="middle" font-weight="normal" font-family="Liberation Sans" fill="#1e1e1e" stroke="#1e1e1e" stroke-width="0.18">0.8</text>
<text transform="translate(636.08,932.80) scale(0.903,1)" font-size="10.3" text-anchor="middle" font-weight="normal" font-family="Liberation Sans" fill="#1e1e1e" stroke="#1e1e1e" stroke-width="0.18">1.0</text>
<text transform="translate(666.36,932.80) scale(0.903,1)" font-size="10.3" text-anchor="middle" font-weight="normal" font-family="Liberation Sans" fill="#1e1e1e" stroke="#1e1e1e" stroke-width="0.18">1.2</text>
<line x1="376.00" y1="652.30" x2="378.70" y2="652.30" stroke="#454545" stroke-width="1.2"/>
<line x1="376.00" y1="666.97" x2="378.70" y2="666.97" stroke="#454545" stroke-width="1.2"/>
<line x1="376.00" y1="681.63" x2="378.70" y2="681.63" stroke="#454545" stroke-width="1.2"/>
<line x1="376.00" y1="696.30" x2="378.70" y2="696.30" stroke="#454545" stroke-width="1.2"/>
<line x1="376.00" y1="710.97" x2="378.70" y2="710.97" stroke="#454545" stroke-width="1.2"/>
<line x1="376.00" y1="725.63" x2="378.70" y2="725.63" stroke="#454545" stroke-width="1.2"/>
<line x1="376.00" y1="740.30" x2="378.70" y2="740.30" stroke="#454545" stroke-width="1.2"/>
<line x1="376.00" y1="754.97" x2="378.70" y2="754.97" stroke="#454545" stroke-width="1.2"/>
<line x1="376.00" y1="769.63" x2="378.70" y2="769.63" stroke="#454545" stroke-width="1.2"/>
<line x1="376.00" y1="784.30" x2="378.70" y2="784.30" stroke="#454545" stroke-width="1.2"/>
<line x1="376.00" y1="798.97" x2="378.70" y2="798.97" stroke="#454545" stroke-width="1.2"/>
<line x1="376.00" y1="813.63" x2="378.70" y2="813.63" stroke="#454545" stroke-width="1.2"/>
<line x1="376.00" y1="828.30" x2="378.70" y2="828.30" stroke="#454545" stroke-width="1.2"/>
<line x1="376.00" y1="842.97" x2="378.70" y2="842.97" stroke="#454545" stroke-width="1.2"/>
<line x1="376.00" y1="857.63" x2="378.70" y2="857.63" stroke="#454545" stroke-width="1.2"/>
<line x1="376.00" y1="872.30" x2="378.70" y2="872.30" stroke="#454545" stroke-width="1.2"/>
<line x1="376.00" y1="886.97" x2="378.70" y2="886.97" stroke="#454545" stroke-width="1.2"/>
<line x1="376.00" y1="901.63" x2="378.70" y2="901.63" stroke="#454545" stroke-width="1.2"/>
<line x1="376.00" y1="916.30" x2="378.70" y2="916.30" stroke="#454545" stroke-width="1.2"/>
<line x1="373.70" y1="652.30" x2="378.70" y2="652.30" stroke="#454545" stroke-width="1.2"/>
<line x1="373.70" y1="681.63" x2="378.70" y2="681.63" stroke="#454545" stroke-width="1.2"/>
<line x1="373.70" y1="710.97" x2="378.70" y2="710.97" stroke="#454545" stroke-width="1.2"/>
<line x1="373.70" y1="740.30" x2="378.70" y2="740.30" stroke="#454545" stroke-width="1.2"/>
<line x1="373.70" y1="769.63" x2="378.70" y2="769.63" stroke="#454545" stroke-width="1.2"/>
<line x1="373.70" y1="798.97" x2="378.70" y2="798.97" stroke="#454545" stroke-width="1.2"/>
<line x1="373.70" y1="828.30" x2="378.70" y2="828.30" stroke="#454545" stroke-width="1.2"/>
<line x1="373.70" y1="857.63" x2="378.70" y2="857.63" stroke="#454545" stroke-width="1.2"/>
<line x1="373.70" y1="886.97" x2="378.70" y2="886.97" stroke="#454545" stroke-width="1.2"/>
<line x1="373.70" y1="916.30" x2="378.70" y2="916.30" stroke="#454545" stroke-width="1.2"/>
<rect x="73.05" y="85.35" width="4.9" height="4.9" fill="#000"/>
<rect x="134.55" y="40.25" width="4.9" height="4.9" fill="#000"/>
<rect x="140.95" y="67.85" width="4.9" height="4.9" fill="#000"/>
<rect x="160.15" y="70.65" width="4.9" height="4.9" fill="#000"/>
<rect x="191.95" y="78.65" width="4.9" height="4.9" fill="#000"/>
<rect x="192.95" y="89.35" width="4.9" height="4.9" fill="#000"/>
<rect x="231.25" y="114.75" width="4.9" height="4.9" fill="#000"/>
<rect x="311.75" y="127.75" width="4.9" height="4.9" fill="#000"/>
<rect x="415.45" y="248.45" width="4.9" height="4.9" fill="#000"/>
<rect x="477.15" y="141.85" width="4.9" height="4.9" fill="#000"/>
<rect x="483.25" y="163.15" width="4.9" height="4.9" fill="#000"/>
<rect x="502.65" y="146.75" width="4.9" height="4.9" fill="#000"/>
<rect x="534.45" y="123.45" width="4.9" height="4.9" fill="#000"/>
<rect x="535.55" y="132.75" width="4.9" height="4.9" fill="#000"/>
<rect x="573.65" y="119.95" width="4.9" height="4.9" fill="#000"/>
<rect x="654.65" y="53.05" width="4.9" height="4.9" fill="#000"/>
<rect x="59.05" y="352.15" width="4.9" height="4.9" fill="#000"/>
<rect x="76.35" y="385.15" width="4.9" height="4.9" fill="#000"/>
<rect x="88.45" y="433.35" width="4.9" height="4.9" fill="#000"/>
<rect x="235.05" y="339.65" width="4.9" height="4.9" fill="#000"/>
<rect x="236.85" y="440.05" width="4.9" height="4.9" fill="#000"/>
<rect x="270.25" y="417.45" width="4.9" height="4.9" fill="#000"/>
<rect x="275.55" y="424.25" width="4.9" height="4.9" fill="#000"/>
<rect x="305.75" y="437.15" width="4.9" height="4.9" fill="#000"/>
<rect x="406.85" y="492.55" width="4.9" height="4.9" fill="#000"/>
<rect x="423.95" y="514.25" width="4.9" height="4.9" fill="#000"/>
<rect x="436.05" y="555.15" width="4.9" height="4.9" fill="#000"/>
<rect x="582.95" y="370.35" width="4.9" height="4.9" fill="#000"/>
<rect x="584.75" y="468.95" width="4.9" height="4.9" fill="#000"/>
<rect x="617.45" y="425.85" width="4.9" height="4.9" fill="#000"/>
<rect x="622.85" y="429.75" width="4.9" height="4.9" fill="#000"/>
<rect x="653.35" y="423.75" width="4.9" height="4.9" fill="#000"/>
<rect x="58.15" y="692.95" width="4.9" height="4.9" fill="#000"/>
<rect x="165.05" y="799.25" width="4.9" height="4.9" fill="#000"/>
<rect x="178.65" y="796.65" width="4.9" height="4.9" fill="#000"/>
<rect x="187.45" y="783.75" width="4.9" height="4.9" fill="#000"/>
<rect x="188.45" y="787.65" width="4.9" height="4.9" fill="#000"/>
<rect x="280.35" y="845.05" width="4.9" height="4.9" fill="#000"/>
<rect x="294.95" y="841.55" width="4.9" height="4.9" fill="#000"/>
<rect x="307.45" y="874.25" width="4.9" height="4.9" fill="#000"/>
<rect x="404.05" y="732.95" width="4.9" height="4.9" fill="#000"/>
<rect x="511.15" y="788.75" width="4.9" height="4.9" fill="#000"/>
<rect x="524.95" y="779.55" width="4.9" height="4.9" fill="#000"/>
<rect x="533.85" y="762.85" width="4.9" height="4.9" fill="#000"/>
<rect x="535.15" y="765.95" width="4.9" height="4.9" fill="#000"/>
<rect x="626.75" y="779.45" width="4.9" height="4.9" fill="#000"/>
<rect x="641.35" y="769.15" width="4.9" height="4.9" fill="#000"/>
<rect x="653.45" y="796.15" width="4.9" height="4.9" fill="#000"/>
<line x1="74.90" y1="50.40" x2="326.00" y2="138.20" stroke="#000" stroke-width="1.7"/>
<line x1="398.00" y1="262.90" x2="656.90" y2="56.40" stroke="#ff0000" stroke-width="1.7"/>
<line x1="61.90" y1="356.10" x2="95.30" y2="439.00" stroke="#000" stroke-width="1.7"/>
<line x1="165.00" y1="348.40" x2="310.00" y2="444.60" stroke="#000" stroke-width="1.7"/>
<line x1="408.70" y1="494.40" x2="592.10" y2="368.40" stroke="#ff0000" stroke-width="1.7"/>
<line x1="436.50" y1="559.10" x2="664.20" y2="415.70" stroke="#ff0000" stroke-width="1.7"/>
<line x1="57.50" y1="695.30" x2="314.50" y2="880.00" stroke="#000" stroke-width="1.7"/>
<line x1="405.40" y1="735.40" x2="660.90" y2="800.20" stroke="#ff0000" stroke-width="1.7"/>
<rect x="220.15" y="13.85" width="4.9" height="4.9" fill="#000"/>
<text transform="translate(236.20,19.40) scale(0.925,1)" font-size="10.6" text-anchor="start" font-weight="normal" font-family="Liberation Sans" fill="#1e1e1e" stroke="#1e1e1e" stroke-width="0.18">Acetic acid in methanol</text>
<rect x="577.45" y="13.45" width="4.9" height="4.9" fill="#000"/>
<text transform="translate(593.40,19.00) scale(0.925,1)" font-size="10.6" font-family="Liberation Sans" fill="#1e1e1e" stroke="#1e1e1e" stroke-width="0.18">NH<tspan font-size="4.9" dy="3.7" dx="0.4">4</tspan><tspan dy="-3.7" dx="0.4">OH in methanol</tspan></text>
<rect x="43.55" y="333.75" width="4.9" height="4.9" fill="#000"/>
<text transform="translate(60.10,339.60) scale(0.925,1)" font-size="10.6" text-anchor="start" font-weight="normal" font-family="Liberation Sans" fill="#1e1e1e" stroke="#1e1e1e" stroke-width="0.18">Acetic acid in acetontrile</text>
<rect x="389.45" y="333.45" width="4.9" height="4.9" fill="#000"/>
<text transform="translate(406.00,339.60) scale(0.925,1)" font-size="10.6" font-family="Liberation Sans" fill="#1e1e1e" stroke="#1e1e1e" stroke-width="0.18">NH<tspan font-size="4.9" dy="3.7" dx="0.4">4</tspan><tspan dy="-3.7" dx="0.4">OH in acetontrile</tspan></text>
<rect x="214.85" y="660.75" width="4.9" height="4.9" fill="#000"/>
<text transform="translate(231.10,666.20) scale(0.925,1)" font-size="10.6" text-anchor="start" font-weight="normal" font-family="Liberation Sans" fill="#1e1e1e" stroke="#1e1e1e" stroke-width="0.18">Acetic acid in dioxane</text>
<rect x="582.65" y="660.95" width="4.9" height="4.9" fill="#000"/>
<text transform="translate(599.00,666.20) scale(0.925,1)" font-size="10.6" font-family="Liberation Sans" fill="#1e1e1e" stroke="#1e1e1e" stroke-width="0.18">NH<tspan font-size="4.9" dy="3.7" dx="0.4">4</tspan><tspan dy="-3.7" dx="0.4">OH in dioxane</tspan></text>
<text transform="translate(49.40,28.20) scale(1.04,1)" font-size="20.0" text-anchor="start" font-weight="bold" font-family="Liberation Sans" fill="#1e1e1e" stroke="#fff" stroke-width="0.2">(a)</text>
<text transform="translate(296.10,352.20) scale(0.985,1)" font-size="20.0" text-anchor="start" font-weight="bold" font-family="Liberation Sans" fill="#1e1e1e" stroke="#fff" stroke-width="0.2">(b)</text>
<text transform="translate(41.30,676.80) scale(0.985,1)" font-size="20.0" text-anchor="start" font-weight="bold" font-family="Liberation Sans" fill="#1e1e1e" stroke="#fff" stroke-width="0.2">(c)</text>
<text transform="translate(11.10,135.50) rotate(-90) scale(0.985,1)" x="0" y="0" font-size="12.3" text-anchor="middle" font-family="Liberation Sans" fill="#1e1e1e" stroke="#1e1e1e" stroke-width="0.18">log(k)</text>
<text transform="translate(9.60,458.60) rotate(-90) scale(0.985,1)" x="0" y="0" font-size="12.3" text-anchor="middle" font-family="Liberation Sans" fill="#1e1e1e" stroke="#1e1e1e" stroke-width="0.18">log(k)</text>
<text transform="translate(9.60,785.70) rotate(-90) scale(0.985,1)" x="0" y="0" font-size="12.3" text-anchor="middle" font-family="Liberation Sans" fill="#1e1e1e" stroke="#1e1e1e" stroke-width="0.18">log(k)</text>
<ellipse cx="182.50" cy="297.20" rx="4.3" ry="4.05" fill="#1e1e1e"/>
<ellipse cx="182.55" cy="297.30" rx="2.55" ry="2.3" fill="#fff"/>
<rect x="180.90" y="292.85" width="7.3" height="1.35" fill="#1e1e1e"/>
<path d="M193.10,293.60L193.10,292.00M193.10,296.20L193.10,297.80M194.28,294.35L195.73,293.67M191.92,294.35L190.47,293.67M191.92,295.45L190.47,296.13M194.28,295.45L195.73,296.13" stroke="#1e1e1e" stroke-width="1.5" stroke-linecap="round" fill="none"/>
<circle cx="193.10" cy="294.90" r="0.9" fill="#777"/>
<ellipse cx="531.30" cy="297.30" rx="4.3" ry="4.05" fill="#1e1e1e"/>
<ellipse cx="531.35" cy="297.40" rx="2.55" ry="2.3" fill="#fff"/>
<rect x="529.70" y="292.95" width="7.3" height="1.35" fill="#1e1e1e"/>
<path d="M541.90,293.70L541.90,292.10M541.90,296.30L541.90,297.90M543.08,294.45L544.53,293.77M540.72,294.45L539.27,293.77M540.72,295.55L539.27,296.23M543.08,295.55L544.53,296.23" stroke="#1e1e1e" stroke-width="1.5" stroke-linecap="round" fill="none"/>
<circle cx="541.90" cy="295.00" r="0.9" fill="#777"/>
<ellipse cx="162.10" cy="621.60" rx="4.3" ry="4.05" fill="#1e1e1e"/>
<ellipse cx="162.15" cy="621.70" rx="2.55" ry="2.3" fill="#fff"/>
<rect x="160.50" y="617.25" width="7.3" height="1.35" fill="#1e1e1e"/>
<path d="M172.70,618.00L172.70,616.40M172.70,620.60L172.70,622.20M173.88,618.75L175.33,618.07M171.52,618.75L170.07,618.07M171.52,619.85L170.07,620.53M173.88,619.85L175.33,620.53" stroke="#1e1e1e" stroke-width="1.5" stroke-linecap="round" fill="none"/>
<circle cx="172.70" cy="619.30" r="0.9" fill="#777"/>
<ellipse cx="530.30" cy="622.30" rx="4.3" ry="4.05" fill="#1e1e1e"/>
<ellipse cx="530.35" cy="622.40" rx="2.55" ry="2.3" fill="#fff"/>
<rect x="528.70" y="617.95" width="7.3" height="1.35" fill="#1e1e1e"/>
<path d="M540.90,618.70L540.90,617.10M540.90,621.30L540.90,622.90M542.08,619.45L543.53,618.77M539.72,619.45L538.27,618.77M539.72,620.55L538.27,621.23M542.08,620.55L543.53,621.23" stroke="#1e1e1e" stroke-width="1.5" stroke-linecap="round" fill="none"/>
<circle cx="540.90" cy="620.00" r="0.9" fill="#777"/>
<ellipse cx="180.90" cy="951.40" rx="4.3" ry="4.05" fill="#1e1e1e"/>
<ellipse cx="180.95" cy="951.50" rx="2.55" ry="2.3" fill="#fff"/>
<rect x="179.30" y="947.05" width="7.3" height="1.35" fill="#1e1e1e"/>
<path d="M191.50,947.80L191.50,946.20M191.50,950.40L191.50,952.00M192.68,948.55L194.13,947.87M190.32,948.55L188.87,947.87M190.32,949.65L188.87,950.33M192.68,949.65L194.13,950.33" stroke="#1e1e1e" stroke-width="1.5" stroke-linecap="round" fill="none"/>
<circle cx="191.50" cy="949.10" r="0.9" fill="#777"/>
<ellipse cx="522.70" cy="948.70" rx="4.3" ry="4.05" fill="#1e1e1e"/>
<ellipse cx="522.75" cy="948.80" rx="2.55" ry="2.3" fill="#fff"/>
<rect x="521.10" y="944.35" width="7.3" height="1.35" fill="#1e1e1e"/>
<path d="M533.30,945.10L533.30,943.50M533.30,947.70L533.30,949.30M534.48,945.85L535.93,945.17M532.12,945.85L530.67,945.17M532.12,946.95L530.67,947.63M534.48,946.95L535.93,947.63" stroke="#1e1e1e" stroke-width="1.5" stroke-linecap="round" fill="none"/>
<circle cx="533.30" cy="946.40" r="0.9" fill="#777"/>
</svg>
</body></html>
